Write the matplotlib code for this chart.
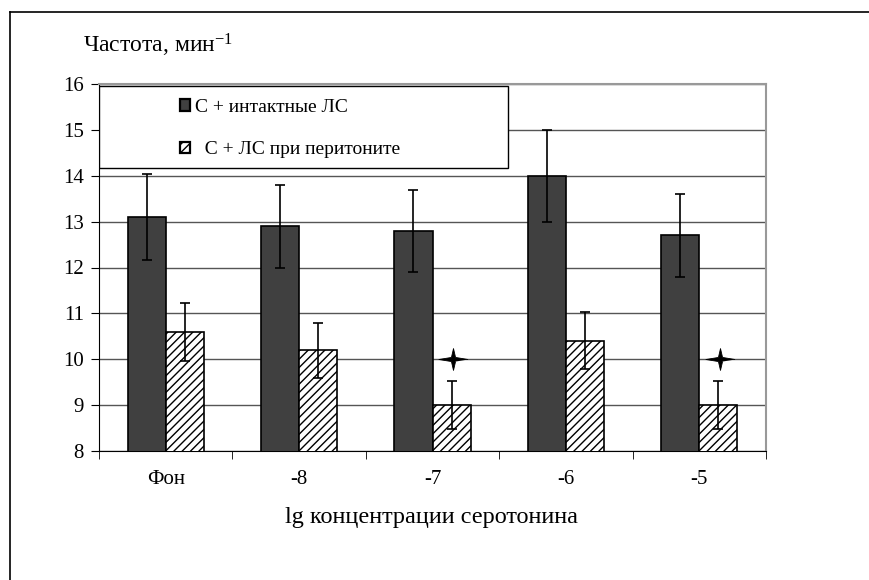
import matplotlib
matplotlib.use("Agg")
import matplotlib.pyplot as plt
import numpy as np
from matplotlib.lines import Line2D
from matplotlib.patches import Rectangle

categories = ["Фон", "-8", "-7", "-6", "-5"]
intact = [13.1, 12.9, 12.8, 14.0, 12.7]
intact_err = [0.93, 0.9, 0.9, 1.0, 0.9]
perit = [10.6, 10.2, 9.0, 10.4, 9.0]
perit_err = [0.63, 0.6, 0.53, 0.62, 0.53]
stars_idx = [2, 4]
star_val = 10.0

plt.rcParams['font.family'] = ['Liberation Serif', 'DejaVu Serif']
plt.rcParams['mathtext.fontset'] = 'custom'
plt.rcParams['mathtext.rm'] = 'Liberation Serif'
plt.rcParams['mathtext.it'] = 'Liberation Serif:italic'
plt.rcParams['hatch.linewidth'] = 1.0

fig = plt.figure(figsize=(8.7, 5.8), dpi=100)
ax = fig.add_axes([99/870, 1-451/580, (766-99)/870, (451-84)/580])

# four-pointed star marker, wider than tall
ang = np.deg2rad(np.arange(0, 360, 45))
rx = np.array([1.0, 0.2] * 4)
ry = np.array([0.75, 0.2] * 4)
star = list(zip(rx * np.cos(ang), ry * np.sin(ang)))

x = np.arange(len(categories))
w = 0.285
ekw = dict(ecolor='black', elinewidth=1.2, capsize=3.5, capthick=1.2)
ax.bar(x - w/2, intact, w, color='#404040', edgecolor='black', linewidth=1.2,
       yerr=intact_err, error_kw=ekw, label='С + интактные ЛС', zorder=3)
ax.bar(x + w/2, perit, w, color='white', edgecolor='black', hatch='////', linewidth=1.2,
       yerr=perit_err, error_kw=ekw, label='  С + ЛС при перитоните', zorder=3)
for i in stars_idx:
    ax.plot(x[i] + w/2 + 0.01, star_val, marker=star, markersize=21, color='black',
            markeredgewidth=0.6, zorder=4)

ax.set_ylim(8, 16)
ax.set_xlim(-0.5, len(categories) - 0.5)
ax.set_yticks(np.arange(8, 17, 1))
ax.yaxis.grid(True, color='#555555', linewidth=1.0)
ax.set_axisbelow(True)
ax.set_xticks(x)
ax.set_xticklabels(categories, fontsize=15)
ax.tick_params(axis='x', length=0, pad=14)
ax.set_xticks(np.arange(-0.5, len(categories), 1), minor=True)
ax.tick_params(axis='x', which='minor', length=6, direction='out', color='black')
ax.tick_params(axis='y', length=6, direction='out', labelsize=15, pad=5)
for s in ['top', 'right']:
    ax.spines[s].set_color('#999999')
    ax.spines[s].set_linewidth(1.5)
ax.spines['left'].set_color('black')
ax.spines['bottom'].set_color('black')

# legend box
frame = Rectangle((0.0, 0.771), 0.613, 0.2236, transform=ax.transAxes, facecolor='white',
                  edgecolor='black', linewidth=1.0, zorder=5)
ax.add_patch(frame)
leg = ax.legend(loc='center left', bbox_to_anchor=(0.121, 0.879), fontsize=14, frameon=False,
                labelspacing=1.32, handlelength=0.55, handleheight=0.55, handletextpad=0.25,
                borderaxespad=0.0, borderpad=0.0)
leg.set_zorder(6)
for h in leg.legend_handles:
    h.set_linewidth(1.6)

fig.text(83/870, 1-45/580, 'Частота, мин$^{\\mathrm{-1}}$', fontsize=17, ha='left', va='center')
fig.text(432/870, 1-518/580, 'lg концентрации серотонина', fontsize=17.5, ha='center', va='center')

fig.add_artist(Line2D([10/870, 1], [1-12/580, 1-12/580], color='black', linewidth=1.2))
fig.add_artist(Line2D([10/870, 10/870], [0, 1-12/580], color='black', linewidth=1.2))

fig.savefig('out.png', dpi=100)
